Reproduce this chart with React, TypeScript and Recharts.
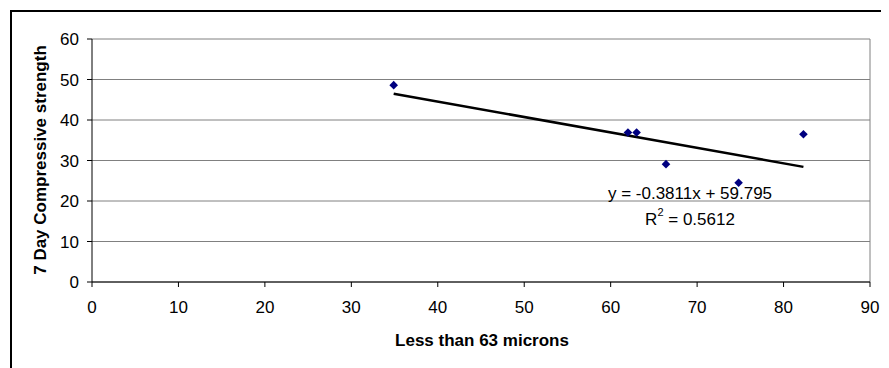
import { ScatterChart, Scatter, XAxis, YAxis, CartesianGrid, ReferenceLine } from "recharts";

const fines = [34.9, 62.0, 63.0, 66.4, 74.8, 82.3];
const strength = [48.6, 36.9, 36.9, 29.1, 24.5, 36.5];
const xTicks = [0, 10, 20, 30, 40, 50, 60, 70, 80, 90];
const yTicks = [0, 10, 20, 30, 40, 50, 60];

// trendline as printed on the chart
const slope = -0.3811;
const intercept = 59.795;

const points = fines.map((x, i) => ({ x, y: strength[i] }));
const xMin = Math.min(...fines);
const xMax = Math.max(...fines);
const trend = [xMin, xMax].map((x) => ({ x, y: slope * x + intercept }));

const font = "'Liberation Sans', Arial, sans-serif";
const tickStyle = { fontSize: 17, fill: "#000", fontFamily: font };

const Diamond = ({ cx, cy }: any) => {
  const r = 4.3;
  return (
    <polygon
      points={`${cx},${cy - r} ${cx + r},${cy} ${cx},${cy + r} ${cx - r},${cy}`}
      fill="#000080"
    />
  );
};

export default function App() {
  return (
    <div style={{ position: "relative", width: 881, height: 360, overflow: "hidden", fontFamily: font }}>
      <div
        style={{
          position: "absolute",
          left: 2,
          top: 2,
          width: 1000,
          height: 1000,
          border: "2px solid #000",
          boxSizing: "border-box",
        }}
      />
      <div style={{ position: "absolute", left: 0, top: 0 }}>
        <ScatterChart width={881} height={360} margin={{ top: 31, right: 19, bottom: 46, left: 40 }}>
          <CartesianGrid vertical={false} stroke="#808080" strokeWidth={1} />
          <XAxis
            type="number"
            dataKey="x"
            domain={[0, 90]}
            ticks={xTicks}
            interval={0}
            height={40}
            tickSize={5}
            tickMargin={14}
            stroke="#000"
            tick={tickStyle}
            allowDataOverflow
          />
          <YAxis
            type="number"
            dataKey="y"
            domain={[0, 60]}
            ticks={yTicks}
            interval={0}
            width={44}
            tickSize={5}
            tickMargin={8}
            stroke="#000"
            tick={tickStyle}
            allowDataOverflow
          />
          <ReferenceLine x={90} stroke="#808080" strokeWidth={1} />
          <Scatter
            data={trend}
            line={{ stroke: "#000", strokeWidth: 2.5 }}
            shape={() => <g />}
            isAnimationActive={false}
          />
          <Scatter data={points} shape={<Diamond />} isAnimationActive={false} />
        </ScatterChart>
      </div>
      <svg
        width={881}
        height={360}
        style={{ position: "absolute", left: 0, top: 0, pointerEvents: "none" }}
      >
        <text
          x={32}
          y={152}
          transform="rotate(-90 32 152)"
          textAnchor="middle"
          dominantBaseline="central"
          fontSize={17}
          fontWeight="bold"
          fontFamily={font}
        >
          7 Day Compressive strength
        </text>
        <text
          x={474}
          y={332}
          textAnchor="middle"
          dominantBaseline="central"
          fontSize={17}
          fontWeight="bold"
          fontFamily={font}
        >
          Less than 63 microns
        </text>
        <text x={682} y={185} textAnchor="middle" dominantBaseline="central" fontSize={17} fontFamily={font}>
          y = -0.3811x + 59.795
        </text>
        <text x={682} y={211} textAnchor="middle" dominantBaseline="central" fontSize={17} fontFamily={font}>
          R<tspan dy={-7} fontSize={11}>2</tspan>
          <tspan dy={7}> = 0.5612</tspan>
        </text>
      </svg>
    </div>
  );
}
